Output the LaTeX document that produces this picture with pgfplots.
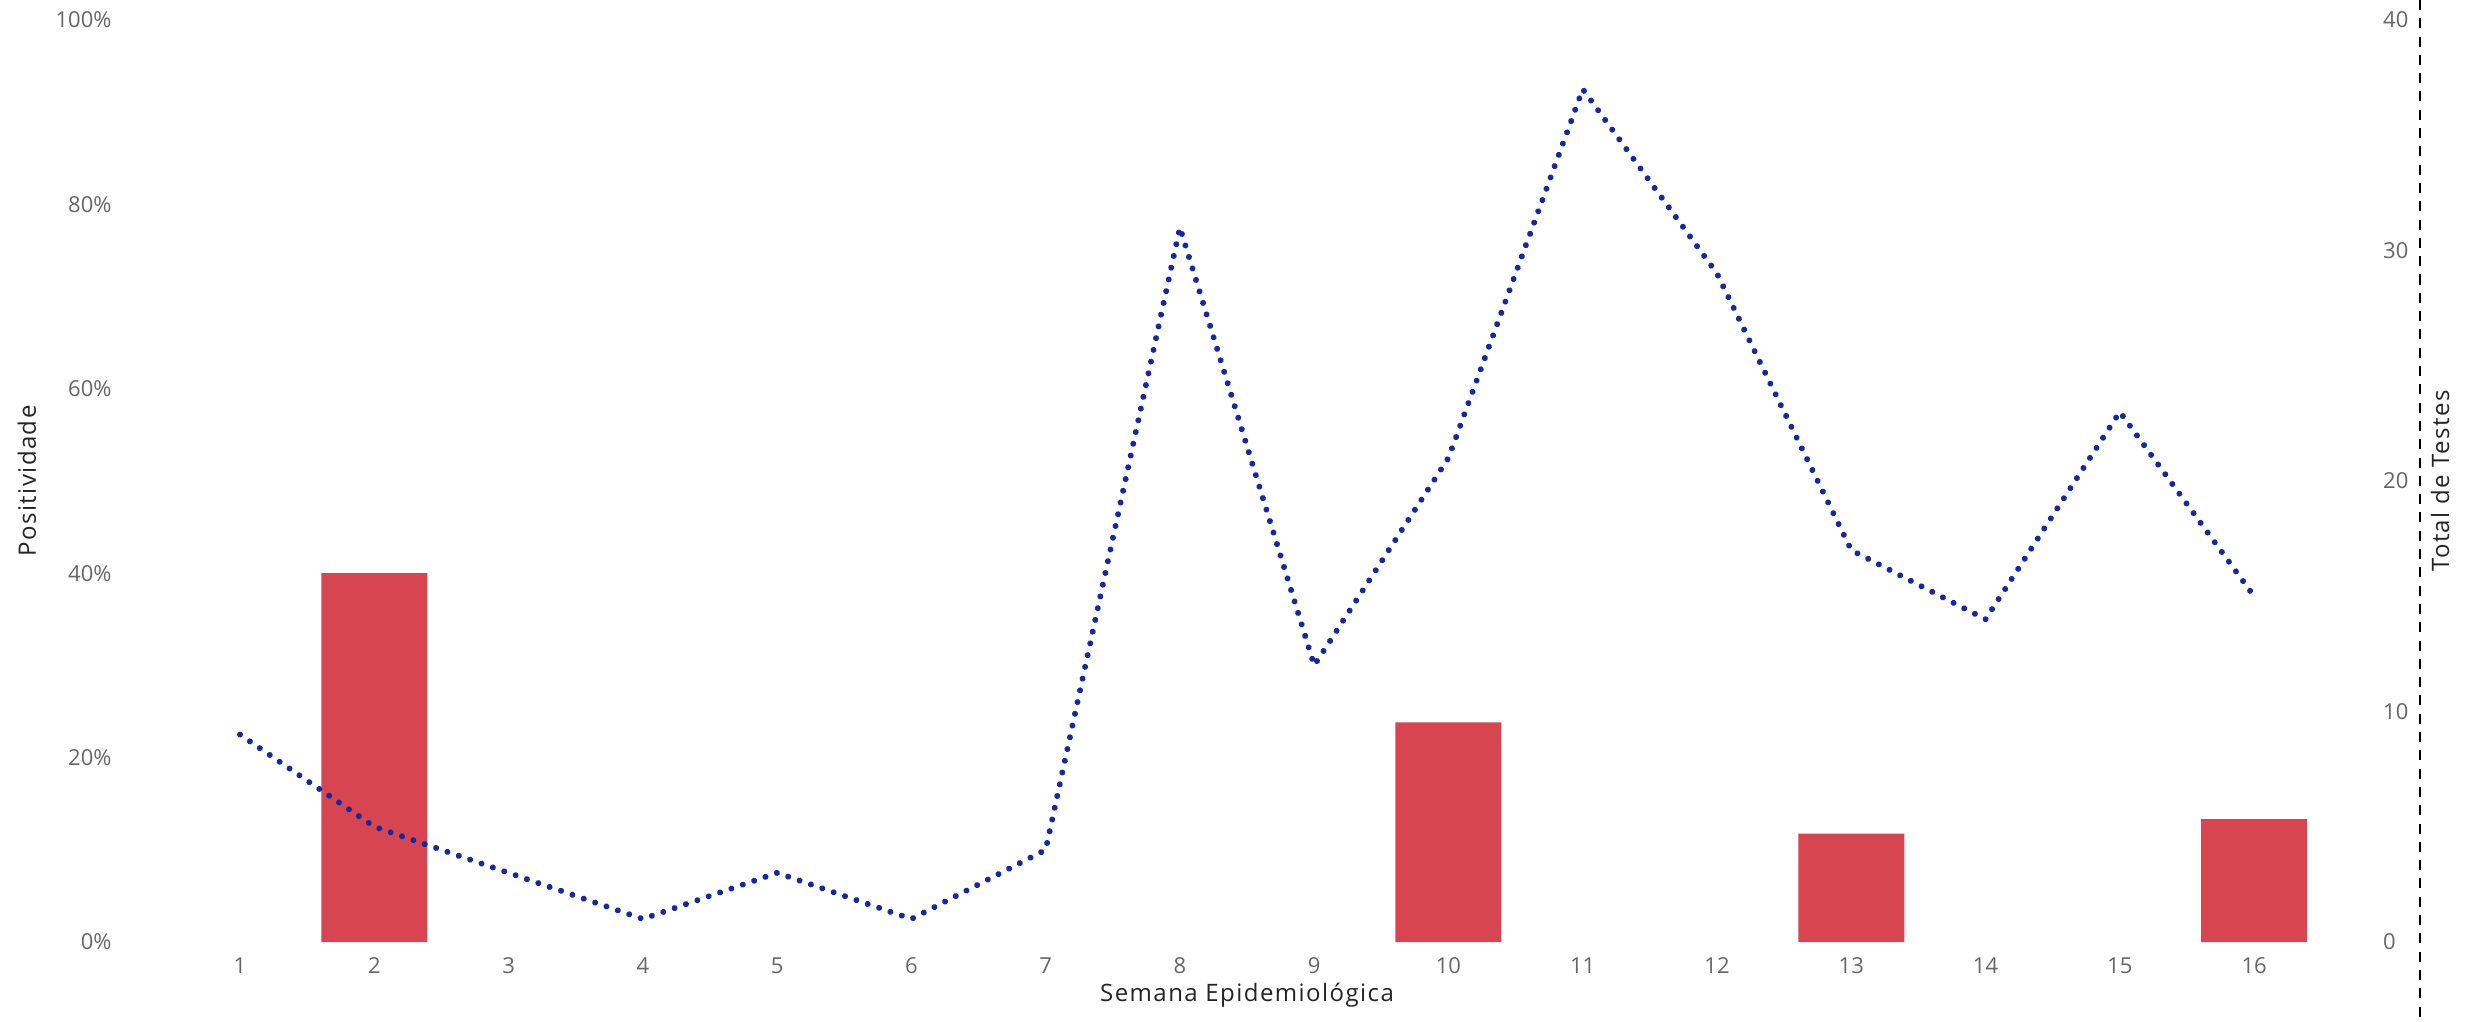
\documentclass[border=0pt]{standalone}
\usepackage{fontspec}
\setmainfont{Open Sans}
\newfontfamily\titlefont[LetterSpace=6]{Open Sans}
\usepackage{pgfplots}
\pgfplotsset{compat=1.18}
\definecolor{barred}{HTML}{D74550}
\definecolor{lineblue}{HTML}{1428A0}
\definecolor{tickgray}{HTML}{666666}
\definecolor{titlecol}{HTML}{252423}
\begin{document}
\begin{tikzpicture}
\useasboundingbox (-172.9pt,-79pt) rectangle (2302.1pt,942pt);
\pgfplotsset{
  common/.style={
    scale only axis, width=2148.3pt, height=922pt,
    xmin=0.5, xmax=16.5,
    axis line style={draw=none},
    major tick length=0pt,
    tick style={draw=none},
    tick label style={font=\fontsize{22}{26}\selectfont, text=tickgray, inner sep=0pt},
    /pgf/number format/assume math mode=true,
  }
}
\begin{axis}[common,
  ymin=0, ymax=100, ytick={0,20,...,100},
  yticklabel={\pgfmathprintnumber{\tick}\%},
  yticklabel style={anchor=east, xshift=-61.2pt},
  xtick={1,...,16},
  xticklabel style={anchor=base, yshift=-31.3pt},
  xlabel={Semana Epidemiológica},
  every axis x label/.style={at={(axis description cs:0.5,0)}, anchor=base, yshift=-59pt, font=\titlefont\fontsize{24}{28}\selectfont, text=titlecol},
  ylabel={Positividade},
  every axis y label/.style={at={(axis description cs:0,0.5)}, xshift=-145.9pt, rotate=90, anchor=center, font=\titlefont\fontsize{24}{28}\selectfont, text=titlecol},
]
\addplot[ybar, bar width=106pt, fill=barred, draw=none] coordinates {
  (2,40) (10,23.81) (13,11.76) (16,13.33)
};
\end{axis}
\begin{axis}[common,
  ymin=0, ymax=40, ytick={0,10,...,40},
  axis y line*=right, axis x line=none,
  yticklabel style={anchor=west, xshift=61.8pt},
  ylabel={Total de Testes},
  every axis y label/.style={at={(axis description cs:1,0.5)}, xshift=118.8pt, rotate=90, anchor=center, font=\titlefont\fontsize{24}{28}\selectfont, text=titlecol},
  after end axis/.code={
    \draw[black, line width=2.7pt, dash pattern=on 10pt off 8.3pt]
      ([xshift=98.8pt,yshift=20pt]rel axis cs:1,1) -- ([xshift=98.8pt,yshift=-79pt]rel axis cs:1,0);
  },
]
\addplot[lineblue, line width=6pt, line cap=round, line join=round, dash pattern=on 0.01pt off 12pt] coordinates {
  (1,9) (2,5) (3,3) (4,1) (5,3) (6,1) (7,4) (8,31) (9,12) (10,21) (11,37) (12,29) (13,17) (14,14) (15,23) (16,15)
};
\end{axis}
\end{tikzpicture}
\end{document}
